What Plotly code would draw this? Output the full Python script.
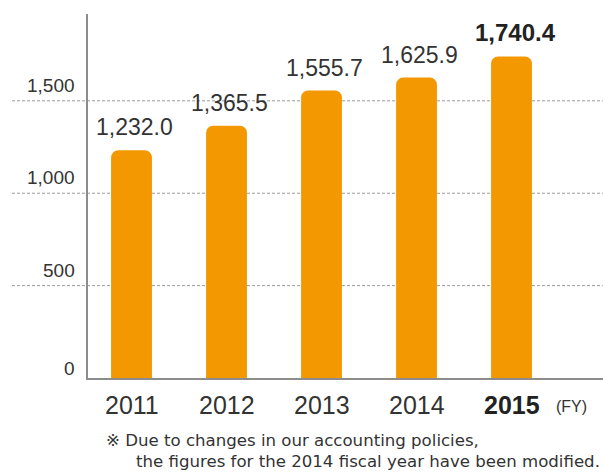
import plotly.graph_objects as go

years = ["2011", "2012", "2013", "2014", "2015"]
values = [1232.0, 1365.5, 1555.7, 1625.9, 1740.4]
y_ticks = [0, 500, 1000, 1500]
grid_lines = [500, 1000, 1500]
note_lines = ["※ Due to changes in our accounting policies,",
              "the figures for the 2014 fiscal year have been modified."]

ORANGE = "#F39800"
TXT = "#333333"
FONT = "Liberation Sans, Arial, sans-serif"
NOTE_FONT = "DejaVu Sans, sans-serif"

L, R, T, B = 88, 0, 14, 94
W, H = 603, 472
pw = W - L - R
ph = H - T - B

def px_x(px):
    return (px - L) / pw

def px_y(py):
    return (H - B - py) / ph

xs = list(range(len(years)))

fig = go.Figure()
fig.add_trace(go.Bar(x=xs, y=values, width=0.43, marker=dict(color=ORANGE, line=dict(width=0)),
                     hoverinfo="skip"))

shapes = []
for g in grid_lines:
    shapes.append(dict(type="line", xref="paper", yref="y", x0=px_x(12), x1=1, y0=g, y1=g,
                       line=dict(color="#9a9a9a", width=1, dash="3px,2px"), layer="below"))

annotations = []
# value labels
for i, v in enumerate(values):
    last = i == len(values) - 1
    txt = f"{v:,.1f}"
    annotations.append(dict(x=i + (0.04 if last else 0.03), y=v, xref="x", yref="y",
                            text=f"<b>{txt}</b>" if last else txt, showarrow=False,
                            yanchor="bottom", yshift=8,
                            font=dict(family=FONT, size=23 if not last else 24,
                                      color="#222222" if last else TXT)))
# y tick labels
for t in y_ticks:
    annotations.append(dict(x=px_x(77), y=t, xref="paper", yref="y", text=f"{t:,}",
                            showarrow=False, xanchor="right", yanchor="bottom",
                            yshift=3 if t else -3,
                            font=dict(family=FONT, size=19, color=TXT)))
# x labels
for i, yr in enumerate(years):
    last = i == len(years) - 1
    annotations.append(dict(x=i, y=px_y(405), xref="x", yref="paper",
                            text=f"<b>{yr}</b>" if last else yr, showarrow=False,
                            yanchor="middle",
                            font=dict(family=FONT, size=25, color="#222222" if last else TXT)))
annotations.append(dict(x=px_x(571), y=px_y(406), xref="paper", yref="paper", text="(FY)",
                        showarrow=False, xanchor="center", yanchor="middle",
                        font=dict(family=FONT, size=16, color=TXT)))
# notes
annotations.append(dict(x=px_x(104), y=px_y(440), xref="paper", yref="paper", text=note_lines[0],
                        showarrow=False, xanchor="left", yanchor="middle",
                        font=dict(family=NOTE_FONT, size=16.6, color=TXT)))
annotations.append(dict(x=px_x(602), y=px_y(461), xref="paper", yref="paper", text=note_lines[1],
                        showarrow=False, xanchor="right", yanchor="middle",
                        font=dict(family=NOTE_FONT, size=16.6, color=TXT)))

fig.update_layout(
    width=W, height=H, margin=dict(l=L, r=R, t=T, b=B),
    paper_bgcolor="white", plot_bgcolor="rgba(0,0,0,0)",
    barcornerradius=7, showlegend=False,
    shapes=shapes, annotations=annotations,
    xaxis=dict(range=[-0.458, 4.963], showgrid=False, zeroline=False, showticklabels=False,
               showline=True, linecolor="#8c8c8c", linewidth=1.5, ticks="", fixedrange=True),
    yaxis=dict(range=[0, 1970], showgrid=False, zeroline=False, showticklabels=False,
               showline=True, linecolor="#8c8c8c", linewidth=1.5, ticks="", fixedrange=True),
)

fig.write_html("out.html", config={"displayModeBar": False})
